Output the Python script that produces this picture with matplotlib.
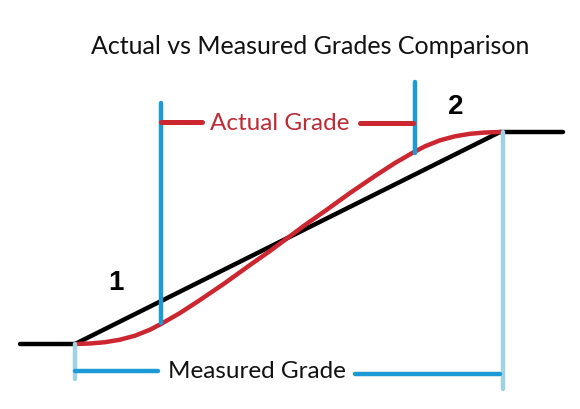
import matplotlib
matplotlib.use("Agg")
import matplotlib.pyplot as plt

# diagram coordinates (pixel space, y downwards)
ground_left_x = [20, 75]
ground_left_y = [345, 345]
ground_right_x = [500, 563]
ground_right_y = [133, 133]
measured_x = [75, 500]
measured_y = [345, 133]

actual_x = [75, 90, 105, 120, 135, 150, 161, 180, 200, 225, 250, 270, 287.5,
            305, 325, 350, 375, 395, 414, 425, 440, 455, 470, 485, 500]
actual_y = [345, 344.5, 343.2, 340.7, 336.7, 330.7, 325, 314, 301, 284, 266, 252, 239,
            226, 212, 194, 177, 164, 153, 147.3, 141.3, 137.3, 134.8, 133.5, 133]

actual_bounds_x = [161, 415]
actual_bounds_top = [104, 83]
actual_bounds_bot = [324, 154]
measured_bounds_x = [75, 503]
measured_bounds_top = [345, 133]
measured_bounds_bot = [380, 390]

RED = "#cc2630"
BLUE = "#1c9ad6"
LIGHT = "#9fd2e6"
LW = 3.2

fig = plt.figure(figsize=(5.8, 4.1), dpi=100)
ax = fig.add_axes([0, 0, 1, 1])
ax.set_xlim(0, 580)
ax.set_ylim(410, 0)
ax.axis("off")

ax.plot(ground_left_x, ground_left_y, color="black", lw=LW, solid_capstyle="round")
ax.plot(ground_right_x, ground_right_y, color="black", lw=LW, solid_capstyle="round")
ax.plot(measured_x, measured_y, color="black", lw=LW, solid_capstyle="round")
ax.plot(actual_x, actual_y, color=RED, lw=LW, solid_capstyle="round",
        solid_joinstyle="round")

# actual grade bracket
for x, t, b in zip(actual_bounds_x, actual_bounds_top, actual_bounds_bot):
    ax.plot([x, x], [t, b], color=BLUE, lw=LW, solid_capstyle="round")
ax.plot([161, 202], [123, 123], color=RED, lw=3.6, solid_capstyle="round")
ax.plot([360, 413], [124, 124], color=RED, lw=3.6, solid_capstyle="round")
ax.text(280, 123, "Actual Grade", color="#bd2b36", fontsize=17.5, family="Lato",
        ha="center", va="center")

# measured grade bracket
for x, t, b in zip(measured_bounds_x, measured_bounds_top, measured_bounds_bot):
    ax.plot([x, x], [t, b], color=LIGHT, lw=LW, solid_capstyle="round")
ax.plot([75, 158], [372, 372], color=BLUE, lw=LW, solid_capstyle="round")
ax.plot([355, 500], [375, 375], color=BLUE, lw=LW, solid_capstyle="round")
ax.text(257, 372, "Measured Grade", color="#111111", fontsize=17.5, family="Lato",
        ha="center", va="center")

ax.text(116, 283, "1", fontsize=20, fontweight="bold", family="Liberation Sans",
        ha="center", va="center")
ax.text(456, 107, "2", fontsize=20, fontweight="bold", family="Liberation Sans",
        ha="center", va="center")

ax.text(310, 46, "Actual vs Measured Grades Comparison", fontsize=18,
        family="Lato", ha="center", va="center", color="#111111")

fig.savefig("out.png", dpi=100)
